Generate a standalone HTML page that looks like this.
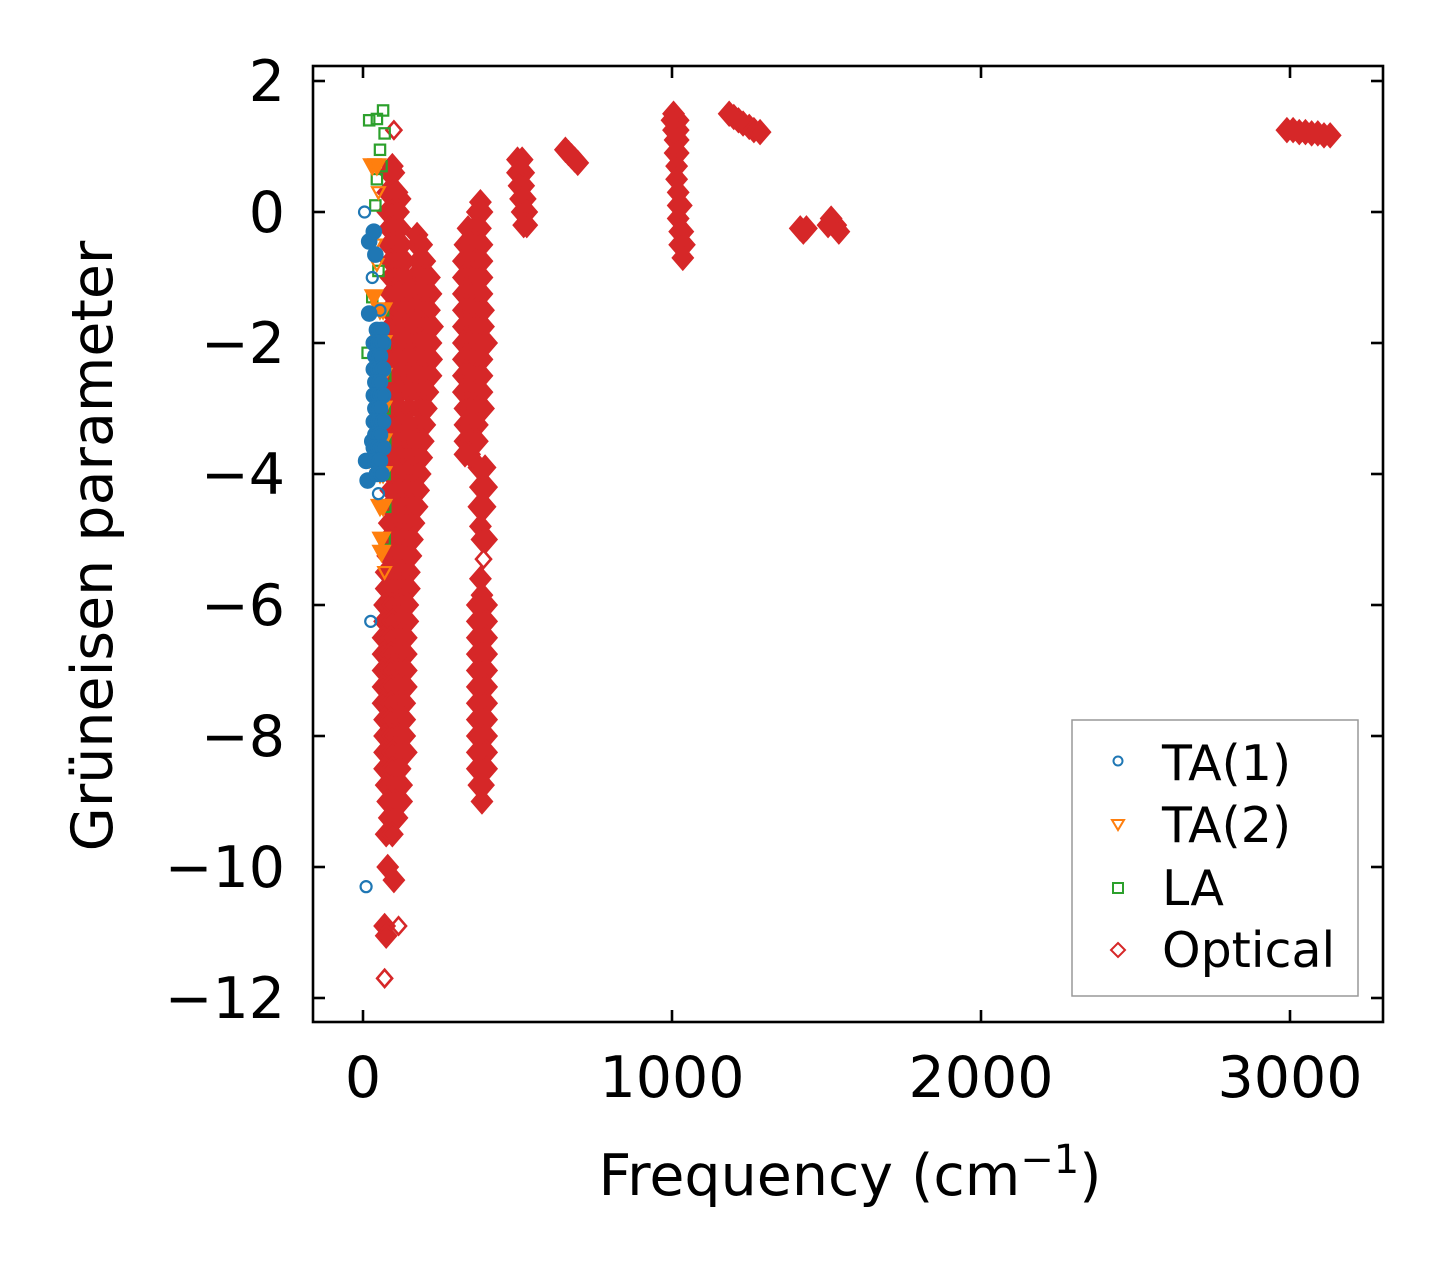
<!DOCTYPE html>
<html><head><meta charset="utf-8"><style>
body{margin:0;background:#fff;}
svg text{font-family:"DejaVu Sans","Liberation Sans",sans-serif;fill:#000;}
</style></head><body>
<svg id="chart" width="1443" height="1270" xmlns="http://www.w3.org/2000/svg" style="position:absolute;left:0;top:0">
<g id="marks"></g>
<g id="axes"></g>
</svg>
<script>
// ---- data: rows of [gamma, freq1, freq2, ...] ----
const opticalRows = [
[1.25,100],[0.7,95],[0.6,85,100],[0.3,80,95,110],[0.2,120],[0.0,80,95,115],[-0.25,85,100,120],[-0.35,175],
[-0.5,85,105,125,175,190],[-0.75,90,110,135,180,200],[-1.0,90,110,135,165,195,215],[-1.25,90,115,140,170,200,220],
[-1.5,85,110,135,160,190,215],[-1.75,90,115,140,170,200,225],[-2.0,85,110,135,165,195,220],[-2.25,90,115,140,170,200,222],
[-2.5,90,115,145,175,205,220],[-2.75,95,120,150,180,210],[-3.0,95,120,150,180,205],[-3.25,95,125,150,180,200],
[-3.5,95,120,150,175,195],[-3.75,90,120,145,170,190],[-4.0,90,115,140,165,185],[-4.25,90,115,140,165,180],
[-4.5,85,110,135,160,175],[-4.75,85,110,135,165],[-5.0,80,105,130,160],[-5.25,80,105,130,155],[-5.5,75,100,125,150],
[-5.75,75,100,125,150],[-6.0,70,95,120,145],[-6.25,70,95,120,145],[-6.5,65,90,115,140],[-6.75,65,90,115,140],
[-7.0,65,90,115,140],[-7.25,65,90,115,140],[-7.5,65,90,115,135],[-7.75,70,90,115,135],[-8.0,70,95,115,135],
[-8.25,70,95,120,140],[-8.5,70,95,120],[-8.75,75,100,125],[-9.0,80,105,125],[-9.25,85,110],[-9.5,75,95],
[-10.0,80],[-10.2,100],[-10.9,70,115],[-11.05,75],[-11.7,70],
[0.15,380],[0.0,370,385],[-0.25,340,360,380],[-0.5,330,350,370,385],[-0.75,325,345,365,385],[-1.0,325,345,365,385],
[-1.25,325,345,365,385],[-1.5,325,345,365,390],[-1.75,325,345,365,390],[-2.0,325,345,365,385,400],[-2.25,325,345,365,385],
[-2.5,325,345,365,385],[-2.75,325,345,365,385],[-3.0,330,350,370,390],[-3.25,330,350,370],[-3.5,330,350,370],[-3.7,330,345],
[-3.9,375,395],[-4.2,380,400],[-4.5,375,395],[-4.8,380],[-5.0,385,400],[-5.3,390],[-5.6,380],[-5.85,385],
[-6.0,370,385,400],[-6.25,370,385,400],[-6.5,370,385,400],[-6.75,370,385,400],[-7.0,370,385,400],[-7.25,370,385,400],
[-7.5,370,385,400],[-7.75,370,385,400],[-8.0,370,385,400],[-8.25,370,385,400],[-8.5,370,385,400],[-8.75,375,390],[-9.0,385],
[0.8,500,515],[0.6,500,520],[0.4,505,520],[0.2,510,525],[0.0,515,530],[-0.2,520,530],
[0.95,655],[0.9,665],[0.85,675],[0.8,685],[0.75,695],
[1.5,1005],[1.4,1000,1020],[1.25,1005,1020],[1.1,1010,1020],[0.9,1010,1020],[0.7,1015],[0.5,1015],[0.3,1020],
[0.1,1020,1030],[-0.1,1020],[-0.3,1025,1035],[-0.5,1025,1040],[-0.7,1035],
[1.5,1185],[1.45,1200],[1.4,1215],[1.35,1230],[1.3,1250],[1.25,1265],[1.22,1285],
[-0.25,1415,1435],[-0.3,1425],[-0.1,1515],[-0.2,1505,1530],[-0.3,1540],
[1.25,2990,3010],[1.22,3030,3050],[1.2,3070,3090],[1.17,3110,3130]
];
const laRows = [[1.4,20],[1.42,45],[1.55,65],[1.2,70],[0.95,55],[0.7,60],[0.5,45],[0.1,40],[-0.9,50],[-1.3,30],[-2.15,15],[-1.5,65],
[-2.0,70],[-2.5,72],[-3.0,70],[-3.5,72],[-4.0,70],[-4.5,72],[-5.0,70]];
const ta2Rows = [[0.7,30,45],[0.3,50],[-0.5,40],[-0.8,45],[-1.3,35],[-3.8,20],[-5.5,70],[-5.2,60],
[-1.5,55,65],[-2.0,55,65],[-2.5,55,65],[-3.0,55,65],[-3.5,55,65],[-4.0,55,65],[-4.5,55,65],[-5.0,60]];
const ta1Rows = [[0.0,5],[-0.45,20],[-0.3,35],[-1.0,30],[-0.65,40],[-1.5,55],[-1.55,20],[-3.8,10],[-4.1,15],[-3.5,30],[-4.3,50],[-6.25,25],[-10.3,10],
[-1.8,45,60],[-2.0,35,50,65],[-2.2,40,55],[-2.4,35,50,65],[-2.6,40,55],[-2.8,35,50,65],[-3.0,40,55],[-3.2,35,50,65],
[-3.4,40,55],[-3.6,35,50,65],[-3.8,40,55],[-4.0,45,60]];
const xTicks = [0,1000,2000,3000];
const yTicks = [2,0,-2,-4,-6,-8,-10,-12];

// ---- axes functions ----
const L=313,R=1383,T=66,B=1022;
const xs = f => 363 + f*0.309;
const ys = g => 212 - g*65.5;
const NS="http://www.w3.org/2000/svg";
const marks=document.getElementById('marks');
const axes=document.getElementById('axes');
function mk(tag,attrs,parent){const e=document.createElementNS(NS,tag);for(const k in attrs)e.setAttribute(k,attrs[k]);parent.appendChild(e);return e;}

function marker(type,x,y,color,parent,s,filled){
  const fill = filled ? color : 'none';
  let e;
  if(type==='circle') e=mk('circle',{cx:x,cy:y,r:4.8*s,fill:fill,stroke:color,'stroke-width':2.2},parent);
  else if(type==='tri') e=mk('polygon',{points:`${x-5.5*s},${y-4.5*s} ${x+5.5*s},${y-4.5*s} ${x},${y+5.5*s}`,fill:fill,stroke:color,'stroke-width':2.2},parent);
  else if(type==='square') e=mk('rect',{x:x-4.5*s,y:y-4.5*s,width:9*s,height:9*s,fill:fill,stroke:color,'stroke-width':2.2},parent);
  else e=mk('polygon',{points:`${x},${y-7.5*s} ${x+6.5*s},${y} ${x},${y+7.5*s} ${x-6.5*s},${y}`,fill:fill,stroke:color,'stroke-width':2.6},parent);
  return e;
}
const series=[
 {rows:opticalRows,type:'diamond',color:'#d62728',name:'optical',canFill:true},
 {rows:laRows,type:'square',color:'#2ca02c',name:'la',canFill:false},
 {rows:ta2Rows,type:'tri',color:'#ff7f0e',name:'ta2',canFill:true},
 {rows:ta1Rows,type:'circle',color:'#1f77b4',name:'ta1',canFill:true}
];
series.forEach(sr=>{
  const g=mk('g',{},marks);
  
  
  const pts=[];
  sr.rows.forEach(row=>{for(let i=1;i<row.length;i++) pts.push([xs(row[i]),ys(row[0])]);});
  pts.forEach(p=>{
    let n=0;
    pts.forEach(q=>{if(q!==p && Math.abs(q[0]-p[0])<10 && Math.abs(q[1]-p[1])<18) n++;});
    const dense = sr.canFill && n>=1;
    const e=marker(sr.type,p[0],p[1],sr.color,g,dense?1.5:1.15,dense);
    
    
  });
});

// frame
const fr=mk('rect',{x:L,y:T,width:R-L,height:B-T,fill:'none',stroke:'#000','stroke-width':2.6},axes);


xTicks.forEach(v=>{
  const x=xs(v);
  mk('line',{x1:x,y1:B,x2:x,y2:B-12,stroke:'#000','stroke-width':2.6},axes);
  mk('line',{x1:x,y1:T,x2:x,y2:T+12,stroke:'#000','stroke-width':2.6},axes);
  const t=mk('text',{x:x,y:1097,'text-anchor':'middle','font-size':57},axes);
  t.textContent=String(v);
  
  
});
yTicks.forEach(v=>{
  const y=ys(v);
  mk('line',{x1:L,y1:y,x2:L+12,y2:y,stroke:'#000','stroke-width':2.6},axes);
  mk('line',{x1:R,y1:y,x2:R-12,y2:y,stroke:'#000','stroke-width':2.6},axes);
  const t=mk('text',{x:285,y:y+20,'text-anchor':'end','font-size':57},axes);
  t.textContent=v<0?'\u2212'+Math.abs(v):String(v);
  
  
});
</script>
<svg style="position:absolute;left:0;top:0" width="1443" height="1270">
<text x="850" y="1195" text-anchor="middle" font-size="57">Frequency (cm<tspan dy="-22" font-size="40">−1</tspan><tspan dy="22">)</tspan></text>
<text transform="translate(112,546) rotate(-90)" text-anchor="middle" font-size="57">Grüneisen parameter</text>
<g>
<rect x="1072" y="720" width="286" height="276" fill="#fff" stroke="#999" stroke-width="1.5"/>
<g><circle cx="1118" cy="761" r="4.5" fill="none" stroke="#1f77b4" stroke-width="2"/><text x="1162" y="780" font-size="49">TA(1)</text></g>
<g><polygon points="1112,820 1124,820 1118,830" fill="none" stroke="#ff7f0e" stroke-width="2"/><text x="1162" y="842" font-size="49">TA(2)</text></g>
<g><rect x="1113" y="883" width="10" height="10" fill="none" stroke="#2ca02c" stroke-width="2"/><text x="1162" y="905" font-size="49">LA</text></g>
<g><polygon points="1118,943 1125,950 1118,957 1111,950" fill="none" stroke="#d62728" stroke-width="2"/><text x="1162" y="967" font-size="49">Optical</text></g>
</g>
</svg>
</body></html>
